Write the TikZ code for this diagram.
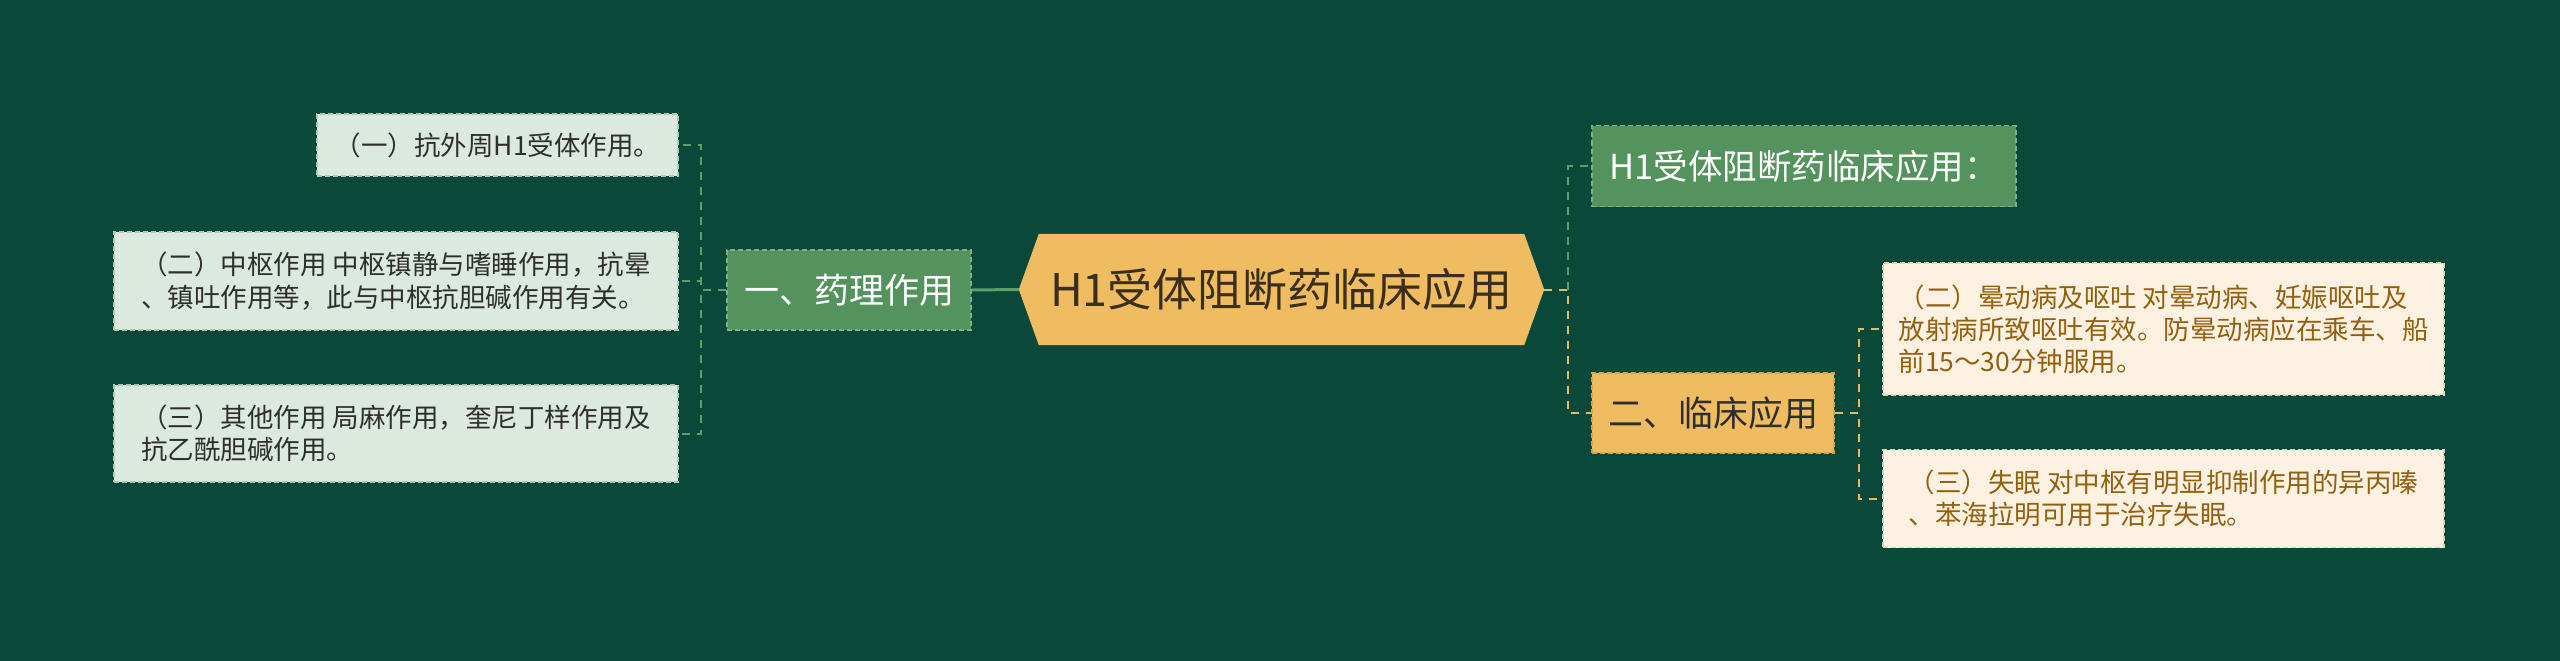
\documentclass[tikz,border=0pt]{standalone}
\usepackage{fontspec}
\setmainfont{Noto Sans CJK SC}
\usetikzlibrary{calc}
\pgfdeclarelayer{background}
\pgfsetlayers{background,main}

\definecolor{bgcol}{HTML}{0A4939}
\definecolor{leafgreen}{HTML}{DCE9DF}
\definecolor{leafgreenline}{HTML}{AFC8B6}
\definecolor{midgreen}{HTML}{55935E}
\definecolor{midgreenline}{HTML}{7DB088}
\definecolor{sand}{HTML}{F0BC62}
\definecolor{sandline}{HTML}{D9A24A}
\definecolor{cream}{HTML}{FDF1E2}
\definecolor{creamline}{HTML}{E3CFB3}
\definecolor{browntext}{HTML}{93600F}
\definecolor{darktext}{HTML}{2E2E2E}
\definecolor{roottext}{HTML}{3A2E1C}
\definecolor{greenlink}{HTML}{5E9E6B}
\definecolor{sandlink}{HTML}{E9B862}

\tikzset{
	boxsize/.style 2 args={minimum width=#1pt, minimum height=#2pt},
	box/.style={rectangle, inner sep=0pt, line width=1.5pt, dash pattern=on 5pt off 3pt},
	leftleaf/.style={box, fill=leafgreen, draw=leafgreenline, text=darktext, align=left,
		font=\fontsize{26.5pt}{32.5pt}\selectfont},
	rightleaf/.style={box, fill=cream, draw=creamline, text=browntext, align=left,
		font=\fontsize{26.5pt}{32pt}\selectfont},
	greenbox/.style={box, fill=midgreen, draw=midgreenline, text=white},
	sandbox/.style={box, fill=sand, draw=sandline, text=darktext},
	rootnode/.style={rectangle, inner sep=0pt, text=roottext, font=\fontsize{45pt}{52pt}\selectfont},
	gdash/.style={draw=greenlink, line width=2pt, dash pattern=on 8pt off 7pt},
	sdash/.style={draw=sandlink, line width=2pt, dash pattern=on 8pt off 7pt},
}

\begin{document}
\begin{tikzpicture}[x=1pt, y=-1pt]
	\begin{pgfonlayer}{background}
		\fill[bgcol] (0,0) rectangle (2560,661);
	\end{pgfonlayer}
	\useasboundingbox (0,0) rectangle (2560,661);
	% centre
	\node[rootnode, boxsize={525}{111}] (root) at (1281.5,289.5) {H1受体阻断药临床应用};
	\begin{pgfonlayer}{background}
		\fill[sand] (root.west) -- ([xshift=20pt]root.north west) -- ([xshift=-20pt]root.north east)
		-- (root.east) -- ([xshift=-20pt]root.south east) -- ([xshift=20pt]root.south west) -- cycle;
	\end{pgfonlayer}
	% left side
	\node[greenbox, boxsize={244}{80}, font=\fontsize{35pt}{40pt}\selectfont] (pharm) at (849,290) {一、药理作用};
	\node[leftleaf, boxsize={361}{62}] (lleafa) at (497.5,145) {（一）抗外周H1受体作用。};
	\node[leftleaf, boxsize={564}{98}] (lleafb) at (396,281) {（二）中枢作用 中枢镇静与嗜睡作用，抗晕\\、镇吐作用等，此与中枢抗胆碱作用有关。};
	\node[leftleaf, boxsize={564}{97}] (lleafc) at (396,433.5) {（三）其他作用 局麻作用，奎尼丁样作用及\\抗乙酰胆碱作用。};
	% right side
	\node[greenbox, boxsize={424}{81}, font=\fontsize{34.5pt}{40pt}\selectfont] (hause) at (1804,166) {H1受体阻断药临床应用：};
	\node[sandbox, boxsize={242}{80}, font=\fontsize{35pt}{40pt}\selectfont] (clin) at (1713,413) {二、临床应用};
	\node[rightleaf, boxsize={561}{132}] (rleafa) at (2163.5,329) {（二）晕动病及呕吐 对晕动病、妊娠呕吐及\\放射病所致呕吐有效。防晕动病应在乘车、船\\前15～30分钟服用。};
	\node[rightleaf, boxsize={561}{98}] (rleafb) at (2163.5,498.5) {（三）失眠 对中枢有明显抑制作用的异丙嗪\\、苯海拉明可用于治疗失眠。};

	\draw[draw=greenlink, line width=3pt] (root.west) -- (pharm.east);
	\draw[gdash] (pharm.west) -- ++(-25,0) |- (lleafa.east);
	\draw[gdash] (pharm.west) -- ++(-25,0) |- (lleafb.east);
	\draw[gdash] (pharm.west) -- ++(-25,0) |- (lleafc.east);
	\draw[gdash] (root.east) ++(24,0) |- (hause.west);
	\draw[sdash] (root.east) -- ++(24,0) |- (clin.west);
	\draw[sdash] (clin.east) -- ++(24,0) |- (rleafa.west);
	\draw[sdash] (clin.east) -- ++(24,0) |- (rleafb.west);
\end{tikzpicture}
\end{document}
